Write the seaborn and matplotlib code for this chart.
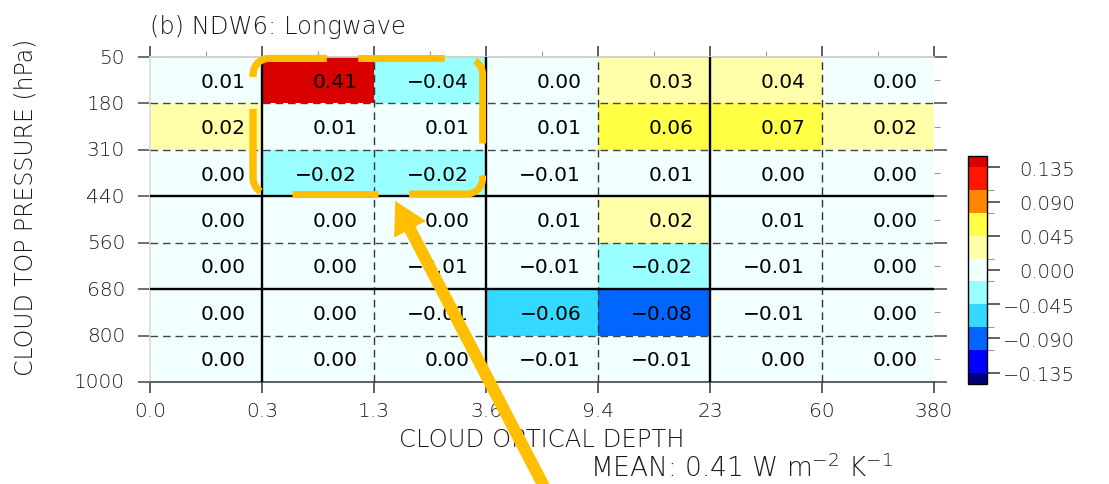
import numpy as np
import pandas as pd
import matplotlib
matplotlib.use("Agg")
import matplotlib.pyplot as plt
from matplotlib.colors import ListedColormap, BoundaryNorm
from matplotlib.patches import FancyArrow
import seaborn as sns

# ---- data -----------------------------------------------------------------
optical_depth_edges = ["0.0", "0.3", "1.3", "3.6", "9.4", "23", "60", "380"]
pressure_edges = ["50", "180", "310", "440", "560", "680", "800", "1000"]

# cloud feedback in each ISCCP bin, rows ordered from high to low clouds
row_050_180 = [0.01, 0.41, -0.04, 0.00, 0.03, 0.04, 0.00]
row_180_310 = [0.02, 0.01, 0.01, 0.01, 0.06, 0.07, 0.02]
row_310_440 = [0.00, -0.02, -0.02, -0.01, 0.01, 0.00, 0.00]
row_440_560 = [0.00, 0.00, 0.00, 0.01, 0.02, 0.01, 0.00]
row_560_680 = [0.00, 0.00, -0.01, -0.01, -0.02, -0.01, 0.00]
row_680_800 = [0.00, 0.00, -0.01, -0.06, -0.08, -0.01, 0.00]
row_800_1000 = [0.00, 0.00, 0.00, -0.01, -0.01, 0.00, 0.00]

mean_feedback = 0.41

level_bounds = [-0.135, -0.105, -0.075, -0.045, -0.015,
                0.015, 0.045, 0.075, 0.105, 0.135]
level_colors = ["#0000ff", "#0066ff", "#33d9ff", "#99ffff", "#f2ffff",
                "#ffffaa", "#ffff44", "#ff8800", "#ff1500"]
under_color = "#00007f"
over_color = "#d90000"
colorbar_ticks = [-0.135, -0.090, -0.045, 0.0, 0.045, 0.090, 0.135]
colorbar_minor = [-0.105, -0.075, -0.015, 0.015, 0.075, 0.105]

# boundary styles: True = solid, False = dashed
x_solid = [True, False, True, False, True, False]
y_solid = [False, False, True, False, True, False]

highlight = "#FFBE00"
label_color = "#1a1a1a"

# ---- styling --------------------------------------------------------------
sns.set_theme(style="white")
plt.rcParams["font.family"] = ["DejaVu Sans"]
plt.rcParams["lines.scale_dashes"] = False
plt.rcParams["axes.unicode_minus"] = True
plt.rcParams["mathtext.fontset"] = "custom"
plt.rcParams["mathtext.rm"] = "DejaVu Sans:light"
plt.rcParams["mathtext.it"] = "DejaVu Sans:light"
plt.rcParams["mathtext.bf"] = "DejaVu Sans:light"
plt.rcParams["mathtext.fallback"] = "stix"

df = pd.DataFrame(
    [row_050_180, row_180_310, row_310_440, row_440_560,
     row_560_680, row_680_800, row_800_1000],
    index=pressure_edges[:-1], columns=optical_depth_edges[:-1])

W, H = 1109, 485
fig = plt.figure(figsize=(W / 100, H / 100), dpi=100)
fig.patch.set_facecolor("white")
ax = fig.add_axes([150 / W, 1 - 383 / H, 784 / W, 325 / H])
cax = fig.add_axes([968 / W, 1 - 385 / H, 19 / W, 228 / H])

cmap = ListedColormap(level_colors)
cmap.set_under(under_color)
cmap.set_over(over_color)
norm = BoundaryNorm(level_bounds, cmap.N)

sns.heatmap(df, ax=ax, cbar_ax=cax, cmap=cmap, norm=norm, annot=False,
            linewidths=0,
            cbar_kws=dict(extend="both", extendrect=True,
                          extendfrac=0.5 / 9, ticks=colorbar_ticks))

# cell values
for i, row in enumerate(df.values):
    for j, v in enumerate(row):
        ax.text(j + 0.85, i + 0.64, f"{v:.2f}".replace("-", "\u2212"),
                ha="right", va="baseline", fontsize=14.5, color="black",
                zorder=4)

# bin boundaries
for k, solid in enumerate(x_solid, start=1):
    if solid:
        ax.axvline(k, color="black", lw=1.7, zorder=3)
    else:
        ax.axvline(k, color="#333333", lw=1.0, ls=(0, (5.5, 3.5)), zorder=3)
for k, solid in enumerate(y_solid, start=1):
    if solid:
        ax.axhline(k, color="black", lw=1.7, zorder=3)
    else:
        ax.axhline(k, color="#444444", lw=1.0, ls=(0, (5.5, 3.5)), zorder=3)

# axes, ticks and labels
ax.set_xticks(np.arange(8))
ax.set_xticklabels(optical_depth_edges, rotation=0)
ax.set_yticks(np.arange(8))
ax.set_yticklabels(pressure_edges, rotation=0)
ax.set_xticks(np.arange(7) + 0.5, minor=True)
ax.set_yticks(np.arange(7) + 0.5, minor=True)
ax.tick_params(axis="x", which="major", bottom=True, top=True,
               direction="out", length=8, width=1.2, color="#444444",
               labelsize=14.5, labelcolor=label_color, pad=6)
ax.tick_params(axis="y", which="major", left=True, right=True,
               direction="out", length=9, width=1.2, color="#555555",
               labelsize=14.5, labelcolor=label_color, pad=9)
ax.tick_params(axis="x", which="minor", bottom=False, top=True,
               direction="out", length=4, width=0.8, color="#999999")
ax.tick_params(axis="y", which="minor", left=False, right=True,
               direction="out", length=4, width=0.8, color="#999999")
for lbl in ax.get_xticklabels() + ax.get_yticklabels():
    lbl.set_fontweight("light")

for side in ["top", "left", "bottom", "right"]:
    ax.spines[side].set_visible(True)
ax.spines["top"].set_color("#cccccc")
ax.spines["left"].set_color("#dddddd")
ax.spines["bottom"].set_color("#444444")
ax.spines["bottom"].set_linewidth(1.2)
ax.spines["right"].set_visible(False)

ax.set_xlabel("CLOUD OPTICAL DEPTH", fontsize=17.5, color=label_color,
              fontweight="light")
ax.xaxis.set_label_coords(0.5, -0.14)
ax.set_ylabel("CLOUD TOP PRESSURE (hPa)", fontsize=17, color=label_color,
              fontweight="light")
ax.yaxis.set_label_coords(-0.143, 0.54)
ax.set_title("(b) NDW6: Longwave", loc="left", y=1.0, pad=17,
             fontsize=17.5, color=label_color, fontweight="light")

# colorbar
cb = ax.collections[0].colorbar
cb.outline.set_visible(True)
cb.outline.set_linewidth(1.0)
cb.outline.set_edgecolor("black")
cb.set_ticks(colorbar_ticks,
             labels=[f"{v:.3f}".replace("-", "\u2212") for v in colorbar_ticks])
cb.set_ticks(colorbar_minor, minor=True)
cax.tick_params(axis="y", which="major", length=9, width=1.2,
                color="#444444", labelsize=14, labelcolor=label_color, pad=54)
cax.tick_params(axis="y", which="minor", length=5, width=0.8,
                color="#999999")
for lbl in cax.get_yticklabels():
    lbl.set_horizontalalignment("right")
    lbl.set_fontweight("light")

# mean value
fig.text(741 / W, 1 - 468 / H,
         f"MEAN: {mean_feedback:.2f} W m$^{{-2}}$ K$^{{-1}}$",
         ha="center", va="center", fontsize=19, color=label_color,
         fontweight="light")

# ---- highlight of the high thin-cloud bins --------------------------------
ov = fig.add_axes([0, 0, 1, 1], zorder=10)
ov.set_xlim(0, W)
ov.set_ylim(H, 0)
ov.axis("off")


def to_px(pt):
    return ov.transData.inverted().transform(ax.transData.transform(pt))


def rounded_outline(x0, y0, x1, y1, r, step=0.5):
    """Points along a rounded rectangle (screen y downward), clockwise,
    starting on the top edge just after the top-left corner."""
    parts = []

    def seg(a, b):
        n = max(int(np.hypot(b[0] - a[0], b[1] - a[1]) / step), 1)
        t = np.linspace(0, 1, n, endpoint=False)
        parts.append(np.column_stack([a[0] + (b[0] - a[0]) * t,
                                      a[1] + (b[1] - a[1]) * t]))

    def arc(cx, cy, a0, a1):
        n = max(int(abs(a1 - a0) * r / step), 1)
        t = np.linspace(a0, a1, n, endpoint=False)
        parts.append(np.column_stack([cx + r * np.cos(t), cy + r * np.sin(t)]))

    seg((x0 + r, y0), (x1 - r, y0))
    arc(x1 - r, y0 + r, -np.pi / 2, 0)
    seg((x1, y0 + r), (x1, y1 - r))
    arc(x1 - r, y1 - r, 0, np.pi / 2)
    seg((x1 - r, y1), (x0 + r, y1))
    arc(x0 + r, y1 - r, np.pi / 2, np.pi)
    seg((x0, y1 - r), (x0, y0 + r))
    arc(x0 + r, y0 + r, np.pi, 1.5 * np.pi)
    pts = np.vstack(parts + [np.array([[x0 + r, y0]])])
    s = np.concatenate([[0], np.cumsum(np.hypot(*np.diff(pts, axis=0).T))])
    return pts, s


p0 = to_px((0.92, 0.03))
p1 = to_px((2.97, 2.95))
pts, s = rounded_outline(p0[0], p0[1], p1[0], p1[1], r=16)
L = s[-1]
period = L / 6
dash = 0.735 * period
phase = -0.24 * period
pts3 = np.vstack([pts, pts, pts])
s3 = np.concatenate([s - L, s, s + L])
for k in range(-1, 8):
    a = phase + k * period
    m = (s3 >= a) & (s3 <= a + dash)
    if m.sum() > 1:
        ov.plot(pts3[m, 0], pts3[m, 1], color=highlight, lw=5.0,
                solid_capstyle="butt", solid_joinstyle="round",
                clip_on=False)

tip = to_px((2.19, 3.10))
tail = to_px((3.55, 9.4))
arrow = FancyArrow(tail[0], tail[1], tip[0] - tail[0], tip[1] - tail[1],
                   width=12, head_width=36, head_length=32,
                   length_includes_head=True, color=highlight, lw=0,
                   clip_on=False)
ov.add_patch(arrow)

fig.savefig("out.png", dpi=100)
